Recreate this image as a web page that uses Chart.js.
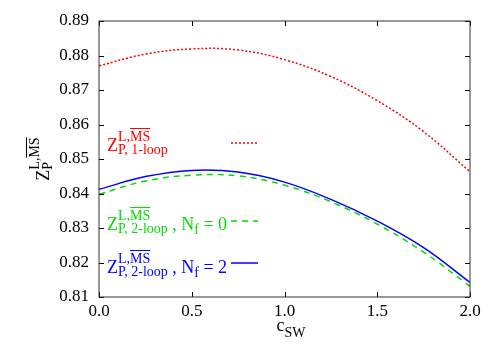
<!DOCTYPE html>
<html>
<head>
<meta charset="utf-8">
<script src="https://cdn.jsdelivr.net/npm/chart.js@4.4.0/dist/chart.umd.min.js"></script>
<style>
  body { margin: 0; background: #fff; }
  #wrap { position: relative; width: 500px; height: 350px; font-family: 'Liberation Serif', serif; }
  .lbl { position: absolute; white-space: nowrap; font-size: 18px; line-height: 18px; }
  .ss { display: inline-block; vertical-align: -3px; font-size: 14px; line-height: 13px; }
  .ss > span { display: block; }
  .ol { text-decoration: overline; }
  .sb { font-size: 14px; vertical-align: -4px; line-height: 0; }
</style>
</head>
<body>
<div id="wrap">
  <canvas id="chart" width="500" height="350"></canvas>
  <div class="lbl" id="ylab" style="left:41px; top:159px; transform: translate(-50%, -50%) rotate(-90deg);">Z<span class="ss"><span>L,<span class="ol">MS</span></span><span>P</span></span></div>
  <div class="lbl" id="xlab" style="left:291px; top:316px; transform: translateX(-50%);">c<span class="sb" style="vertical-align:-6px">SW</span></div>
  <div class="lbl" style="left:107px; top:130px; color:#ff0000;">Z<span class="ss"><span>L,<span class="ol">MS</span></span><span>P, 1-loop</span></span></div>
  <div class="lbl" style="left:107px; top:209px; color:#00dd00;">Z<span class="ss"><span>L,<span class="ol">MS</span></span><span>P, 2-loop</span></span> , N<span class="sb">f</span> = 0</div>
  <div class="lbl" style="left:107px; top:252px; color:#0000ff;">Z<span class="ss"><span>L,<span class="ol">MS</span></span><span>P, 2-loop</span></span> , N<span class="sb">f</span> = 2</div>
</div>
<script>
// c_SW sample points and the three Z_P curves
const cswValues = [0, 0.25, 0.5, 0.75, 1.0, 1.25, 1.5, 1.75, 2.0];
const zOneLoop = [0.8770, 0.8804, 0.8819, 0.8816, 0.8788, 0.8739, 0.8669, 0.8579, 0.8463];
const zTwoLoopNf0 = [0.8398, 0.8436, 0.8453, 0.8451, 0.8424, 0.8376, 0.8311, 0.8230, 0.8131];
const zTwoLoopNf2 = [0.8412, 0.8449, 0.8467, 0.8462, 0.8433, 0.8383, 0.8320, 0.8243, 0.8142];

const xTicks = [0, 0.5, 1.0, 1.5, 2.0];
const yTicks = [0.81, 0.82, 0.83, 0.84, 0.85, 0.86, 0.87, 0.88, 0.89];

const serif = 'Liberation Serif';

function toPoints(ys) {
    return cswValues.map((x, i) => ({ x: x, y: ys[i] }));
}

// frame with inward ticks on all four sides, plus the key samples
const frameTicks = {
    id: 'frameTicks',
    afterDatasetsDraw(chart) {
        const c = chart.ctx;
        const a = chart.chartArea;
        const xs = chart.scales.x;
        const ys = chart.scales.y;
        const len = 5;
        c.save();
        c.strokeStyle = '#000';
        c.lineWidth = 1;
        c.setLineDash([]);
        c.beginPath();
        xTicks.forEach(v => {
            const px = Math.round(xs.getPixelForValue(v)) + 0.5;
            c.moveTo(px, a.bottom); c.lineTo(px, a.bottom - len);
            c.moveTo(px, a.top); c.lineTo(px, a.top + len);
        });
        yTicks.forEach(v => {
            const py = Math.round(ys.getPixelForValue(v)) + 0.5;
            c.moveTo(a.left, py); c.lineTo(a.left + len, py);
            c.moveTo(a.right, py); c.lineTo(a.right - len, py);
        });
        c.stroke();
        c.strokeStyle = '#333';
        c.strokeRect(a.left, a.top, a.right - a.left, a.bottom - a.top);

        // key samples
        const keys = [
            { y: 143, color: '#ff0000', dash: [2, 2] },
            { y: 221, color: '#00dd00', dash: [6, 5] },
            { y: 263, color: '#0000ff', dash: [] }
        ];
        keys.forEach(k => {
            c.strokeStyle = k.color;
            c.lineWidth = 1.5;
            c.setLineDash(k.dash);
            c.beginPath();
            c.moveTo(231, k.y);
            c.lineTo(258, k.y);
            c.stroke();
        });
        c.restore();
    }
};

const ctx = document.getElementById('chart').getContext('2d');

new Chart(ctx, {
    type: 'line',
    data: {
        datasets: [
            {
                label: '1-loop',
                data: toPoints(zOneLoop),
                borderColor: '#ff0000',
                borderWidth: 1.5,
                borderDash: [2, 2]
            },
            {
                label: '2-loop, Nf = 0',
                data: toPoints(zTwoLoopNf0),
                borderColor: '#00dd00',
                borderWidth: 1.5,
                borderDash: [6, 5]
            },
            {
                label: '2-loop, Nf = 2',
                data: toPoints(zTwoLoopNf2),
                borderColor: '#0000ff',
                borderWidth: 1.5
            }
        ]
    },
    options: {
        responsive: false,
        animation: false,
        devicePixelRatio: 1,
        elements: {
            point: { radius: 0 },
            line: { tension: 0.4, fill: false }
        },
        layout: { padding: { left: 0, right: 30, top: 21, bottom: 0 } },
        plugins: {
            legend: { display: false },
            tooltip: { enabled: false }
        },
        scales: {
            x: {
                type: 'linear',
                min: 0,
                max: 2,
                afterBuildTicks: s => { s.ticks = xTicks.map(v => ({ value: v })); },
                afterFit: s => { s.height = 53; },
                grid: { display: false, drawTicks: false },
                border: { display: false },
                ticks: {
                    padding: 4,
                    color: '#000',
                    maxRotation: 0,
                    font: { family: serif, size: 17 },
                    callback: v => v.toFixed(1)
                }
            },
            y: {
                min: 0.81,
                max: 0.89,
                afterBuildTicks: s => { s.ticks = yTicks.map(v => ({ value: v })); },
                afterFit: s => { s.width = 99; },
                grid: { display: false, drawTicks: false },
                border: { display: false },
                ticks: {
                    padding: 10,
                    color: '#000',
                    font: { family: serif, size: 17 },
                    callback: v => v.toFixed(2)
                }
            }
        }
    },
    plugins: [frameTicks]
});
</script>
</body>
</html>
